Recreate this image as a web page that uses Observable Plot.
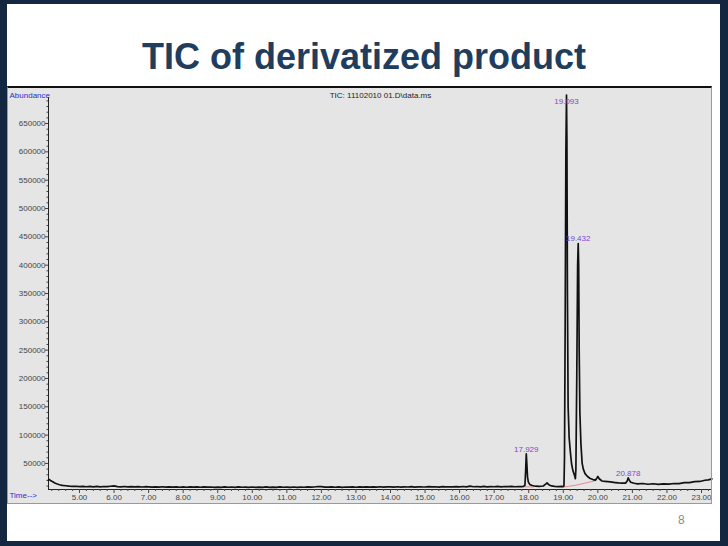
<!DOCTYPE html>
<html><head><meta charset="utf-8">
<script src="https://cdn.jsdelivr.net/npm/d3@7"></script>
<script src="https://cdn.jsdelivr.net/npm/@observablehq/plot@0.6"></script>
<style>
html,body{margin:0;padding:0;background:#132840;}
#slide{position:relative;width:728px;height:546px;background:#132840;overflow:hidden;font-family:"Liberation Sans",Arial,sans-serif;}
#panel{position:absolute;left:7px;top:4px;width:713px;height:537px;background:#fff;}
#title{position:absolute;left:0;width:728px;top:35px;text-align:center;font-weight:bold;font-size:36px;color:#213d5e;line-height:44px;white-space:nowrap;}
#bg{position:absolute;left:7px;top:86px;width:705px;height:418px;background:#e5e5e5;}
#chart{position:absolute;left:7px;top:87px;width:705px;height:417px;}
#box{position:absolute;left:7px;top:86px;width:705px;height:418px;box-sizing:border-box;border:1px solid #9a9a9a;border-top:2px solid #111;pointer-events:none;}
#page{position:absolute;left:678px;top:513px;font-size:12px;line-height:14px;color:#8c8c8c;}
</style></head>
<body>
<div id="slide">
  <div id="panel"></div>
  <div id="title">TIC of derivatized product</div>
  <div id="bg"></div>
  <div id="chart"></div>
  <div id="box"></div>
  <div id="page">8</div>
</div>
<script>
// Retention time (min) of the total ion chromatogram trace
const time = [
  4.10,4.13,4.16,4.20,4.25,4.30,4.36,4.42,4.50,4.60,4.70,4.80,4.90,
  5.0,5.1,5.2,5.3,5.4,5.5,5.6,5.7,5.8,5.9,
  6.0,6.1,6.2,6.3,6.4,6.5,6.6,6.7,6.8,6.9,
  7.0,7.1,7.2,7.3,7.4,7.5,7.6,7.7,7.8,7.9,
  8.0,8.1,8.2,8.3,8.4,8.5,8.6,8.7,8.8,8.9,
  9.0,9.1,9.2,9.3,9.4,9.5,9.6,9.7,9.8,9.9,
  10.0,10.1,10.2,10.3,10.4,10.5,10.6,10.7,10.8,10.9,
  11.0,11.1,11.2,11.3,11.4,11.5,11.6,11.7,11.8,11.9,
  12.0,12.1,12.2,12.3,12.4,12.5,12.6,12.7,12.8,12.9,
  13.0,13.1,13.2,13.3,13.4,13.5,13.6,13.7,13.8,13.9,
  14.0,14.1,14.2,14.3,14.4,14.5,14.6,14.7,14.8,14.9,
  15.0,15.1,15.2,15.3,15.4,15.5,15.6,15.7,15.8,15.9,
  16.0,16.1,16.2,16.3,16.4,16.5,16.6,16.7,16.8,16.9,
  17.0,17.1,17.2,17.3,17.4,17.5,17.6,17.7,17.8,
  17.85,17.89,17.91,17.929,17.945,17.965,17.99,18.03,18.10,18.20,
  18.30,18.42,18.50,18.53,18.58,18.66,18.75,18.85,18.95,19.00,
  19.02,19.035,19.055,19.075,19.093,19.105,19.12,19.14,19.17,19.21,
  19.24,19.28,19.33,19.35,19.365,19.39,19.415,19.432,19.445,19.46,
  19.48,19.51,19.546,19.58,19.63,19.70,19.78,19.86,19.93,19.97,
  20.00,20.04,20.12,20.20,20.30,20.41,20.50,20.60,20.70,20.80,
  20.85,20.878,20.91,20.95,21.05,21.15,21.30,21.45,21.60,21.75,
  21.90,22.05,22.20,22.35,22.50,22.65,22.80,22.95,23.10,23.20,23.30
];
// Abundance
const abundance = [
  20500,21500,20000,18500,16800,15000,13600,12400,11300,10600,9900,9400,9700,
  9100,9600,8900,9500,8800,9400,8700,9300,9000,9700,
  10400,9200,8800,9300,8600,9100,8500,9000,8400,8900,
  8800,8200,8700,8300,8900,8100,8600,8200,8700,8000,
  8500,8000,8600,8100,8700,8000,8500,8200,8400,7900,
  8300,7900,8500,8000,8400,7900,8700,8000,8300,7800,
  8400,7800,8300,7900,8500,7800,8200,7900,8600,8000,
  8300,7800,8400,7900,8300,8000,8500,8100,8400,9300,
  9000,8300,8100,8600,8000,8500,7900,8400,8200,8700,
  8000,8600,8100,8700,8200,8500,8300,8900,8200,8600,
  8800,8300,8900,8200,8700,8400,9000,8300,8800,8500,
  8400,9000,8500,8900,8300,9100,8500,8800,8600,9200,
  8700,9300,8600,9900,8900,9300,8700,9400,8800,9200,
  8900,9400,8800,9300,9000,9500,8900,9300,9100,
  9400,11500,36000,67000,50000,26000,17000,13000,11000,9800,
  9400,10200,14000,15800,12500,10300,9600,9200,9500,9100,
  10500,60000,300000,600000,700000,620000,350000,150000,95000,67000,
  49000,37000,28000,23000,40000,200000,400000,438000,400000,250000,
  140000,85000,50000,40000,32000,27000,23500,21500,20500,24000,
  27000,23000,19000,18500,17800,17000,16300,15600,15200,15300,
  19000,24500,20500,16800,15000,14000,14600,13300,14100,13200,
  13900,13500,14600,14500,16000,16100,17900,18200,20300,20900,22800
];
// Integrated peaks
const peakTime  = [17.929, 19.093, 19.432, 20.878];
const peakLabel = ["17.929", "19.093", "19.432", "20.878"];
const peakLabelAbund = [74500, 689000, 447000, 32300];
// Integration baselines (start / end)
const baseStartT = [17.87, 19.03, 19.36];
const baseStartA = [8800, 8500, 11500];
const baseEndT   = [18.15, 19.36, 19.93];
const baseEndA   = [8600, 11500, 19500];
// Axes
const yTicks = [50000,100000,150000,200000,250000,300000,350000,400000,450000,500000,550000,600000,650000];
const xTicks = [5,6,7,8,9,10,11,12,13,14,15,16,17,18,19,20,21,22,23];
const xMin = 4.103, xMax = 23.318, yMin = 4000, yMax = 713600, yAxisTop = 696000;
const xMinor = d3.range(4.2, 23.3, 0.2).filter(v => Math.abs(v - Math.round(v)) > 0.01);
const yMinor = d3.range(10000, 700000, 10000).filter(v => v % 50000 !== 0);

const trace = time.map((t, i) => ({t, a: abundance[i]}));
const peaks = peakTime.map((t, i) => ({t, a: peakLabelAbund[i], label: peakLabel[i]}));
const bases = baseStartT.map((t, i) => ({x1: t, y1: baseStartA[i], x2: baseEndT[i], y2: baseEndA[i]}));

const chart = Plot.plot({
  width: 705, height: 417,
  marginLeft: 41, marginRight: 0, marginTop: 0, marginBottom: 15,
  style: {background: "transparent", fontFamily: "Liberation Sans, Arial, sans-serif", fontSize: "8px", color: "#333", overflow: "visible"},
  x: {domain: [xMin, xMax]},
  y: {domain: [yMin, yMax]},
  marks: [
    Plot.ruleX([xMin], {y1: yMin, y2: yAxisTop, stroke: "#222"}),
    Plot.ruleY([yMin], {stroke: "#222"}),
    Plot.axisY(yMinor, {tickSize: 1.5, text: null, stroke: "#444", label: null}),
    Plot.axisY(yTicks, {tickSize: 3, tickPadding: 0, tickFormat: d => String(d), fill: "#444", stroke: "#444", fontSize: 8, label: null}),
    Plot.axisX(xMinor, {tickSize: 2, text: null, stroke: "#444", label: null}),
    Plot.axisX(xTicks, {tickSize: 4, tickPadding: 1, tickFormat: d => d.toFixed(2), fill: "#444", stroke: "#444", fontSize: 8, label: null}),
    Plot.link(bases, {x1: "x1", y1: "y1", x2: "x2", y2: "y2", stroke: "#e58a8a", strokeWidth: 1}),
    Plot.line(trace, {x: "t", y: "a", stroke: "#111", strokeWidth: 1.7}),
    Plot.text(peaks, {x: "t", y: "a", text: "label", fill: "#7b48d2", fontSize: 8}),
    Plot.text(["Abundance"], {text: d => d, frameAnchor: "top-left", dx: -39, dy: 5, textAnchor: "start", fill: "#2a2ad0", fontSize: 8}),
    Plot.text(["Time-->"], {text: d => d, frameAnchor: "bottom-left", dx: -39, dy: 8, textAnchor: "start", fill: "#2a2ad0", fontSize: 8}),
    Plot.text(["TIC: 11102010 01.D\\data.ms"], {text: d => d, frameAnchor: "top", dy: 5, fill: "#222", fontSize: 8})
  ]
});
document.getElementById("chart").appendChild(chart);
</script>
</body></html>
